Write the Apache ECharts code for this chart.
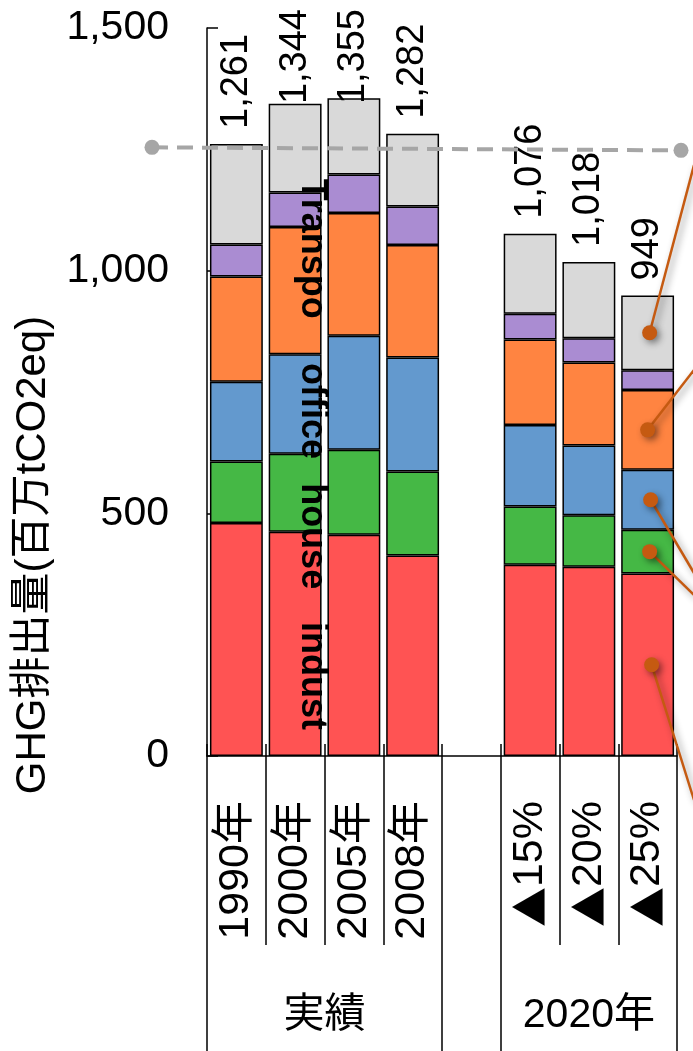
<!DOCTYPE html>
<html>
<head>
<meta charset="utf-8">
<script src="https://cdn.jsdelivr.net/npm/echarts@6/dist/echarts.min.js"></script>
<style>
  html, body { margin: 0; padding: 0; background: #fff; }
  #chart { width: 693px; height: 1051px; }
</style>
</head>
<body>
<div id="chart"></div>
<script>
// GHG emissions by sector, Japan (million t-CO2eq)
var CATEGORIES = ['1990年', '2000年', '2005年', '2008年', '', '▲15%', '▲20%', '▲25%'];
var GROUPS = [
  { label: '実績', from: 0, to: 3 },
  { label: '2020年', from: 5, to: 7 }
];
var INDUST    = [480, 462, 456, 413, null, 394, 390, 376];
var HOUSE     = [127, 161, 175, 173, null, 120, 106,  90];
var OFFICE    = [164, 205, 235, 235, null, 168, 144, 124];
var TRANSPORT = [217, 262, 253, 232, null, 176, 171, 164];
var ENERGY    = [ 66,  71,  79,  79, null,  53,  50,  41];
var TOTALS    = [1261, 1344, 1355, 1282, null, 1076, 1018, 949];
var Y_TICKS   = ['0', '500', '1,000', '1,500'];
var BASELINE  = 1252;
var SECTOR_TAGS = [
  { text: 'Transpo', value: 1045 },
  { text: 'office',  value: 711 },
  { text: 'house',   value: 453 },
  { text: 'indust',  value: 165 }
];

// remaining emissions so that every stack sums to its stated total
var OTHER = TOTALS.map(function (t, i) {
  if (t == null) return null;
  return t - INDUST[i] - HOUSE[i] - OFFICE[i] - TRANSPORT[i] - ENERGY[i];
});

var FONT = "'Liberation Sans', Arial, 'Noto Sans CJK JP', sans-serif";
var COLORS = {
  indust: '#FF5353', house: '#45B845', office: '#6399CE',
  transport: '#FF8441', energy: '#AA8CD2', other: '#D9D9D9'
};
var TOTAL_FONT = 38;
var TOTAL_GAP = 15;
var TOP_LIMIT = 9;

var chart = echarts.init(document.getElementById('chart'), null, { renderer: 'canvas' });

function barSeries(name, data, color, extra) {
  var s = {
    name: name,
    type: 'bar',
    stack: 'ghg',
    data: data,
    barCategoryGap: '10%',
    itemStyle: { color: color, borderColor: '#000', borderWidth: 1.5 },
    emphasis: { disabled: true }
  };
  if (extra) for (var k in extra) s[k] = extra[k];
  return s;
}

var xAxisBase = {
  type: 'category',
  data: CATEGORIES,
  position: 'bottom',
  boundaryGap: true,
  axisLine: { show: false },
  axisTick: { show: false },
  axisLabel: { show: false },
  splitLine: { show: false }
};

function clone(o) { return JSON.parse(JSON.stringify(o)); }

var groupEdges = {};
GROUPS.forEach(function (g) { groupEdges[g.from] = true; groupEdges[g.to + 1] = true; });

var xMain = clone(xAxisBase);
xMain.axisLine = { show: true, lineStyle: { color: '#000', width: 1.5 } };
xMain.axisTick = { show: true, interval: 0, inside: false, length: 189, lineStyle: { color: '#000', width: 1.5 } };
xMain.axisLabel = {
  show: true, interval: 0, rotate: 90, margin: 45,
  color: '#000', fontSize: 43, fontFamily: FONT,
  formatter: function (v) {
    return v.charAt(0) === '▲' ? '{tri|▲}' + v.slice(1) : v;
  },
  rich: {
    tri: { fontSize: 40, fontFamily: "'Noto Sans CJK JP', sans-serif", color: '#000' }
  }
};

var xGroups = clone(xAxisBase);
xGroups.axisTick = {
  show: true, inside: false, length: 295,
  interval: function (index) { return !!groupEdges[index]; },
  lineStyle: { color: '#000', width: 1.5 }
};

var xInner = clone(xAxisBase);
xInner.axisTick = { show: true, interval: 0, inside: true, length: 12, lineStyle: { color: '#000', width: 1.5 } };

// total labels sit above each stack; near the top edge they are pulled down
function totalText(i) { return TOTALS[i] == null ? '' : TOTALS[i].toLocaleString('en-US'); }
var measureCtx = document.createElement('canvas').getContext('2d');
measureCtx.font = TOTAL_FONT + 'px ' + FONT;

function otherData(distances) {
  return OTHER.map(function (v, i) {
    if (v == null) return null;
    return { value: v, label: { distance: distances ? distances[i] : TOTAL_GAP } };
  });
}

var option = {
  animation: false,
  backgroundColor: '#fff',
  grid: { left: 207, right: 16, top: 28, bottom: 295, containLabel: false },
  xAxis: [xMain, xGroups, xInner],
  yAxis: {
    type: 'value', min: 0, max: 1500, interval: 500,
    axisLine: { show: true, lineStyle: { color: '#000', width: 1.5 } },
    axisTick: { show: true, inside: true, length: 11, lineStyle: { color: '#000', width: 1.5 } },
    splitLine: { show: false },
    axisLabel: {
      margin: 38, color: '#000', fontSize: 41, fontFamily: FONT,
      formatter: function (v) { return Y_TICKS[v / 500]; }
    }
  },
  series: [
    barSeries('indust', INDUST, COLORS.indust),
    barSeries('house', HOUSE, COLORS.house),
    barSeries('office', OFFICE, COLORS.office),
    barSeries('Transpo', TRANSPORT, COLORS.transport),
    barSeries('energy', ENERGY, COLORS.energy),
    barSeries('other', otherData(null), COLORS.other, {
      label: {
        show: true, position: 'top', rotate: 90,
        align: 'left', verticalAlign: 'middle',
        color: '#000', fontSize: TOTAL_FONT, fontFamily: FONT,
        formatter: function (p) { return totalText(p.dataIndex); }
      }
    })
  ]
};

chart.setOption(option);

function px(cat, val) { return chart.convertToPixel({ xAxisIndex: 0, yAxisIndex: 0 }, [cat, val]); }

// second pass: clamp the total labels below the top margin
var distances = TOTALS.map(function (t, i) {
  if (t == null) return TOTAL_GAP;
  var top = px(i, t)[1];
  var len = measureCtx.measureText(totalText(i)).width;
  return Math.min(TOTAL_GAP, top - TOP_LIMIT - len);
});
chart.setOption({ series: [{}, {}, {}, {}, {}, { data: otherData(distances) }] });

// annotations drawn on top of the plot
var graphics = [];

// y axis title
graphics.push({
  type: 'text', x: 33, y: 555, rotation: Math.PI / 2, z: 10,
  style: { text: 'GHG排出量(百万tCO2eq)', fill: '#000', font: '42px ' + FONT, align: 'center', verticalAlign: 'middle' }
});

// group labels under the category axis
GROUPS.forEach(function (g) {
  var a = px(g.from, 0)[0], b = px(g.to, 0)[0];
  graphics.push({
    type: 'text', x: (a + b) / 2, y: 1016, z: 10,
    style: { text: g.label, fill: '#000', font: '41px ' + FONT, align: 'center', verticalAlign: 'middle' }
  });
});

// sector tags written down the 2000 bar
var tagX = px(1, 0)[0] + 17;
SECTOR_TAGS.forEach(function (t) {
  graphics.push({
    type: 'text', x: tagX, y: px(1, t.value)[1], rotation: -Math.PI / 2, z: 20,
    style: { text: t.text, fill: '#000', font: 'bold 36px ' + FONT, align: 'center', verticalAlign: 'middle' }
  });
});

// dashed 1990 reference level
var baseY = px(0, BASELINE)[1];
var grey = '#A6A6A6';
graphics.push({
  type: 'line', z: 15,
  shape: { x1: 152, y1: baseY - 1, x2: 681, y2: baseY + 2 },
  style: { stroke: grey, lineWidth: 4, lineDash: [16, 9] }
});
graphics.push({ type: 'circle', z: 15, shape: { cx: 152, cy: baseY - 1, r: 7.5 }, style: { fill: grey } });
graphics.push({ type: 'circle', z: 15, shape: { cx: 681, cy: baseY + 2, r: 7.5 }, style: { fill: grey } });

// callout leaders from the ▲25% stack out to the right margin
var leaderColor = '#C55A11';
var last = 7;
var stacks = [INDUST, HOUSE, OFFICE, TRANSPORT, ENERGY, OTHER];
var leaderEnds = [
  { seg: 0, dx: 4, endY: 800 },
  { seg: 1, dx: 2, endY: 595 },
  { seg: 2, dx: 3, endY: 573 },
  { seg: 3, dx: 0, endY: 370 },
  { seg: 5, dx: 2, endY: 165 }
];
leaderEnds.forEach(function (l) {
  var base = 0;
  for (var i = 0; i < l.seg; i++) base += stacks[i][last];
  var mid = base + stacks[l.seg][last] / 2;
  var p = px(last, mid);
  var cx = p[0] + l.dx, cy = p[1];
  var shadow = { shadowBlur: 7, shadowColor: 'rgba(0,0,0,0.45)', shadowOffsetX: 3, shadowOffsetY: 3 };
  graphics.push({
    type: 'line', z: 30,
    shape: { x1: cx, y1: cy, x2: 694, y2: l.endY },
    style: Object.assign({ stroke: leaderColor, lineWidth: 2.5 }, shadow)
  });
  graphics.push({
    type: 'circle', z: 31,
    shape: { cx: cx, cy: cy, r: 7.5 },
    style: Object.assign({ fill: leaderColor }, shadow)
  });
});

chart.setOption({ graphic: graphics });
</script>
</body>
</html>
